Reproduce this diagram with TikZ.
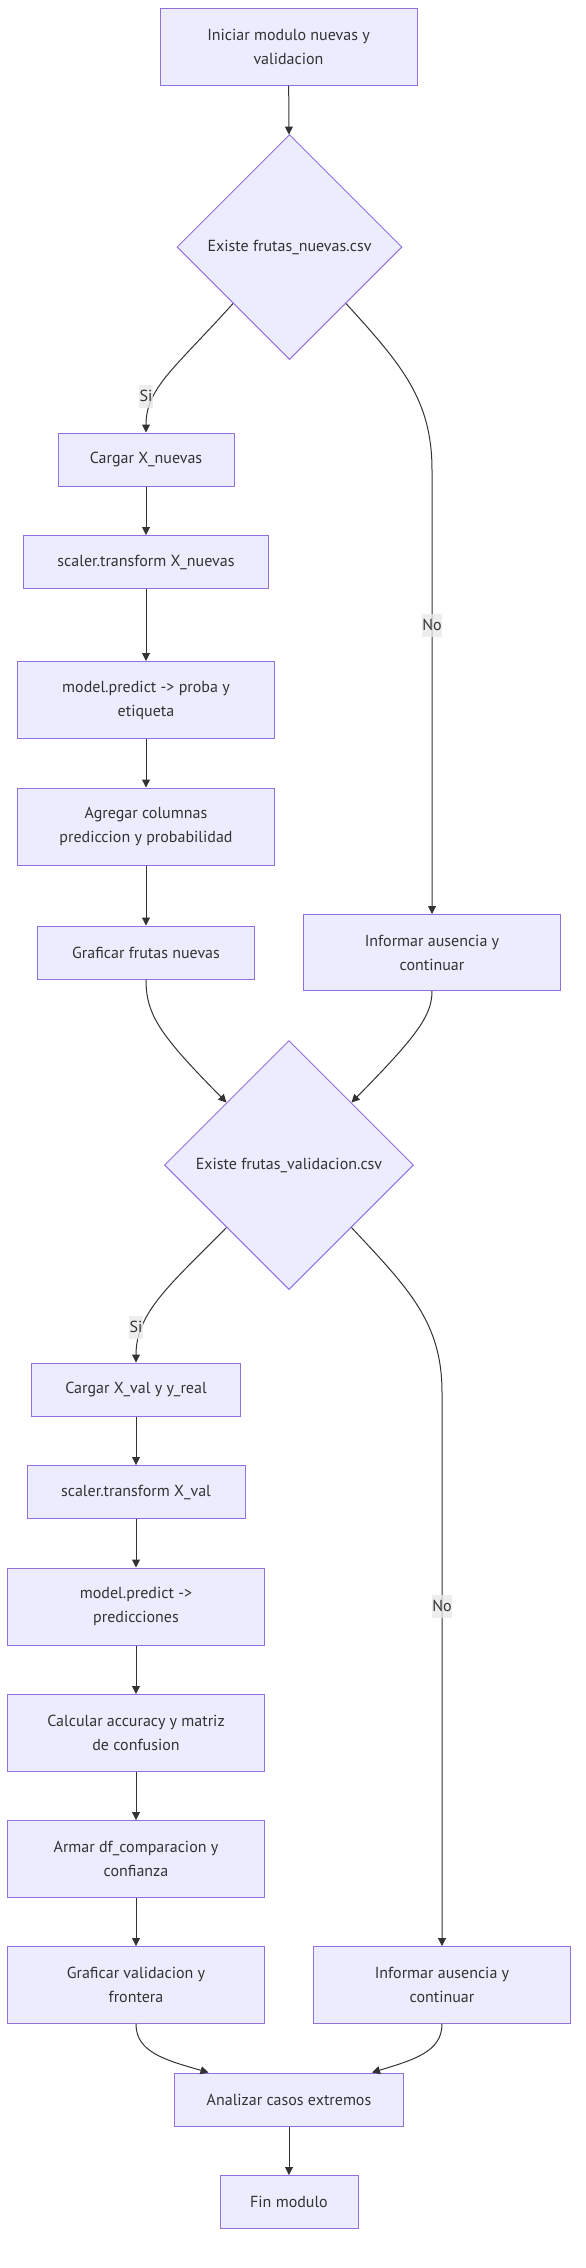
\documentclass[tikz,border=0pt]{standalone}
\usepackage{fontspec}
\setmainfont{PT Sans}
\usetikzlibrary{shapes.geometric,arrows.meta,calc}
\definecolor{boxfill}{HTML}{ECECFF}
\definecolor{boxline}{HTML}{9370DB}
\definecolor{edgeline}{HTML}{333333}
\definecolor{labelbg}{HTML}{E8E8E8}
\begin{document}
\begin{tikzpicture}[x=1pt,y=-1pt,
    every node/.style={font=\fontsize{16}{24}\selectfont, text=edgeline},
    proc/.style={draw=boxline, fill=boxfill, line width=1pt, inner sep=0pt, align=center, minimum height=53pt},
    tall/.style={proc, minimum height=77pt},
    decision/.style={diamond, draw=boxline, fill=boxfill, line width=1pt, inner sep=0pt, aspect=1},
    edgelabel/.style={fill=labelbg, fill opacity=0.8, text opacity=1, inner xsep=0.5pt, inner ysep=0pt, minimum height=23pt},
    flow/.style={draw=edgeline, line width=1pt, -{Triangle[length=8pt,width=8pt]}}]
    \useasboundingbox (0,0) rectangle (586,2268);

    \node[tall, minimum width=257pt] (start) at (288.5,46.5) {Iniciar modulo nuevas y\\validacion};
    \node[decision, minimum width=225pt, minimum height=225pt] (d1) at (289.5,247) {Existe frutas\_nuevas.csv};
    \node[proc, minimum width=176pt] (cargarN) at (146,459.5) {Cargar X\_nuevas};
    \node[proc, minimum width=245pt] (scaleN) at (146,562) {scaler.transform X\_nuevas};
    \node[tall, minimum width=257pt] (predN) at (146,700) {model.predict -> proba y\\etiqueta};
    \node[tall, minimum width=257pt] (agregar) at (146,826.5) {Agregar columnas\\prediccion y probabilidad};
    \node[proc, minimum width=217pt] (graficarN) at (146,952.5) {Graficar frutas nuevas};
    \node[tall, minimum width=257pt, minimum height=76pt] (informarN) at (432,952.5) {Informar ausencia y\\continuar};
    \node[decision, minimum width=249pt, minimum height=249pt] (d2) at (289,1165) {Existe frutas\_validacion.csv};
    \node[proc, minimum width=209pt] (cargarV) at (136,1389.5) {Cargar X\_val y y\_real};
    \node[proc, minimum width=218pt] (scaleV) at (136,1492) {scaler.transform X\_val};
    \node[tall, minimum width=257pt] (predV) at (136,1606.5) {model.predict ->\\predicciones};
    \node[tall, minimum width=257pt] (calcular) at (136,1733) {Calcular accuracy y matriz\\de confusion};
    \node[tall, minimum width=257pt] (armar) at (136,1859) {Armar df\_comparacion y\\confianza};
    \node[tall, minimum width=257pt] (graficarV) at (136,1985) {Graficar validacion y\\frontera};
    \node[tall, minimum width=257pt] (informarV) at (442,1985) {Informar ausencia y\\continuar};
    \node[proc, minimum width=229pt] (analizar) at (289,2099.5) {Analizar casos extremos};
    \node[proc, minimum width=138pt] (fin) at (289,2202) {Fin modulo};

    \coordinate (anaL) at ($(analizar.north)+(-80.5,0)$);
    \coordinate (anaR) at ($(analizar.north)+(83,0)$);

    \draw[flow] (start) -- (d1);
    \draw[flow] (d1.south west) .. controls (175,368) and (146,388) .. (cargarN.north);
    \draw[flow] (d1.south east) .. controls (402,365) and (432,400) .. (432,470) -- (informarN.north);
    \draw[flow] (cargarN) -- (scaleN);
    \draw[flow] (scaleN) -- (predN);
    \draw[flow] (predN) -- (agregar);
    \draw[flow] (agregar) -- (graficarN);
    \draw[flow] (graficarN.south) .. controls (146,1015) and (160,1035) .. (d2.north west);
    \draw[flow] (informarN.south) .. controls (432,1015) and (418,1035) .. (d2.north east);
    \draw[flow] (d2.south west) .. controls (172,1283) and (136,1312) .. (cargarV.north);
    \draw[flow] (d2.south east) .. controls (408,1288) and (442,1322) .. (442,1392) -- (informarV.north);
    \draw[flow] (cargarV) -- (scaleV);
    \draw[flow] (scaleV) -- (predV);
    \draw[flow] (predV) -- (calcular);
    \draw[flow] (calcular) -- (armar);
    \draw[flow] (armar) -- (graficarV);
    \draw[flow] (graficarV.south) .. controls (136,2052) and (165,2060) .. (anaL);
    \draw[flow] (informarV.south) .. controls (442,2052) and (413,2060) .. (anaR);
    \draw[flow] (analizar) -- (fin);

    \node[edgelabel] (si1) at (146,396) {Si};
    \node[edgelabel] (no1) at (432,625) {No};
    \node[edgelabel] (si2) at (136,1327) {Si};
    \node[edgelabel] (no2) at (442,1606) {No};
\end{tikzpicture}
\end{document}
